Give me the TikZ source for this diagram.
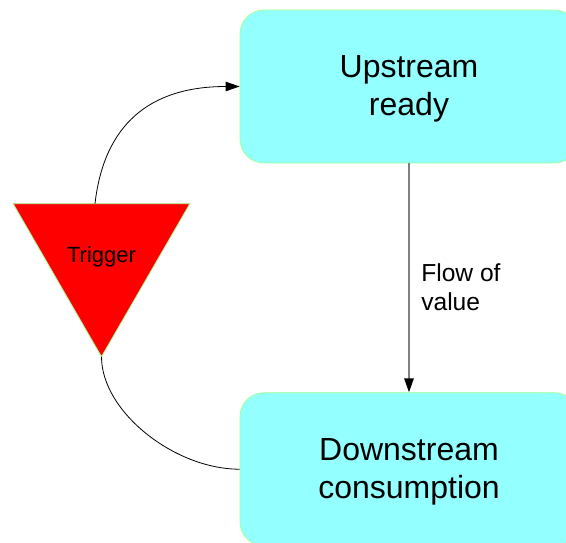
\documentclass[tikz,border=0pt]{standalone}
\usepackage{fontspec}
\setmainfont{Liberation Sans}
\usetikzlibrary{shapes.geometric,arrows.meta}
\definecolor{boxfill}{RGB}{147,255,255}
\definecolor{edgegreen}{RGB}{160,255,150}
\definecolor{flowgray}{RGB}{128,128,128}
\tikzset{
  stagebox/.style={draw=edgegreen, line width=0.8pt, fill=boxfill, rounded corners=24pt,
    minimum width=338pt, minimum height=153pt, inner sep=0pt},
  stagetext/.style={align=center, inner sep=0pt, font=\fontsize{32}{38.5}\selectfont},
  triggershape/.style={regular polygon, regular polygon sides=3, shape border rotate=180,
    draw=edgegreen, line width=0.8pt, fill=red, minimum size=204pt, inner sep=0pt,
    outer sep=0pt},
  loopline/.style={draw=black, line width=0.8pt},
  flowline/.style={draw=flowgray, line width=1.6pt},
  tip/.style={-{Triangle[length=14pt,width=9.5pt,color=black]}}
}
\begin{document}
\begin{tikzpicture}[x=1pt,y=-1pt]
  \useasboundingbox (0,0) rectangle (566,542);
  \begin{scope}
    \clip (0,0) rectangle (566,542);
    \node[stagebox] (up) at (409,86.5) {};
    \node[stagebox] (down) at (409,469.2) {};
  \end{scope}
  \node[stagetext] (uptext) at ([yshift=-2.5pt]up.center) {Upstream\\ready};
  \node[stagetext] (downtext) at ([yshift=-2.5pt]down.center) {Downstream\\consumption};
  \node[triggershape] (trig) at (101.5,254.7) {};
  \node at (101.5,257) (triglabel) {\fontsize{22}{26}\selectfont Trigger};

  % loop back from the trigger to the upstream stage
  \coordinate (trigtop) at ([xshift=-6.5pt]trig.north);
  \draw[loopline, tip] (trigtop) .. controls +(9,-79) and +(-90,0) .. (up.west);
  \draw[loopline] (trig.south) .. controls +(0,55) and +(-65,0) .. (down.west);

  % main flow between the stages
  \draw[flowline, tip] (up.south) -- (down.north)
    node[pos=0.54, right=11.5pt, inner sep=0pt, align=left,
         font=\fontsize{24.6}{29}\selectfont, text=black] (flowlabel) {Flow of\\value};
\end{tikzpicture}
\end{document}
